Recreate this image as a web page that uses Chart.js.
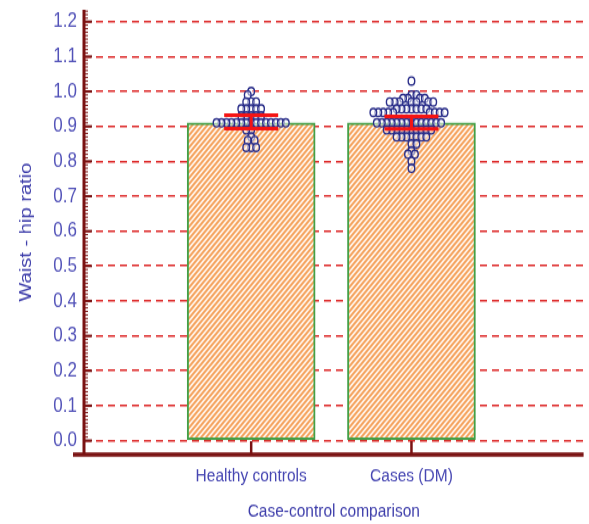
<!DOCTYPE html>
<html lang="en">
<head>
<meta charset="UTF-8">
<title>Waist-hip ratio</title>
<script src="https://cdn.jsdelivr.net/npm/chart.js"></script>
<style>
  body { margin: 0; background: #fff; }
  #page { width: 589px; height: 524px; position: relative; }
  /* the original picture is stretched vertically, so draw flat and stretch */
  #wrap { position: absolute; left: 0; top: 0; width: 589px; height: 430px; transform: scaleY(1.2186); transform-origin: 0 0; }
</style>
</head>
<body>
<div id="page"><div id="wrap"><canvas id="chart" width="589" height="430"></canvas></div></div>
<script>
// data
const groups = ['Healthy controls', 'Cases (DM)'];
const groupPos = [1, 2];
const barMeans = [0.91, 0.91];
const ciLow = [0.894, 0.893];
const ciHigh = [0.932, 0.929];
const yTickLabels = ['0.0', '0.1', '0.2', '0.3', '0.4', '0.5', '0.6', '0.7', '0.8', '0.9', '1.0', '1.1', '1.2'];

const healthy = [
  1.00, 0.99,
  0.97, 0.97, 0.97,
  0.95, 0.95, 0.95, 0.95, 0.95,
  0.93, 0.93, 0.93, 0.93, 0.93,
  0.91, 0.91, 0.91, 0.91, 0.91, 0.91, 0.91, 0.91, 0.91, 0.91, 0.91, 0.91, 0.91, 0.91, 0.91,
  0.89, 0.89,
  0.87,
  0.86, 0.86,
  0.84, 0.84, 0.84
];
const cases = [
  1.03,
  0.99, 0.99,
  0.98, 0.98, 0.98, 0.98,
  0.97, 0.97, 0.97, 0.97, 0.97, 0.97, 0.97,
  0.95, 0.95, 0.95, 0.95, 0.95, 0.95, 0.95,
  0.94, 0.94, 0.94, 0.94, 0.94, 0.94, 0.94, 0.94, 0.94,
  0.91, 0.91, 0.91, 0.91, 0.91, 0.91, 0.91, 0.91, 0.91, 0.91, 0.91, 0.91, 0.91, 0.91,
  0.89, 0.89, 0.89, 0.89, 0.89, 0.89, 0.89, 0.89, 0.89, 0.89,
  0.87, 0.87, 0.87, 0.87, 0.87, 0.87, 0.87,
  0.85, 0.85,
  0.83,
  0.82, 0.82,
  0.80,
  0.78
];

const font = 'Liberation Sans, Arial, sans-serif';

// beeswarm: push each dot sideways until it clears the ones already placed
// (pixels per unit on screen: 162 across, 349 up)
function swarm(vals, center) {
  const pxX = 162, pxY = 349, minDist = 4.8, step = 0.5;
  const placed = [];
  vals.slice().sort((a, b) => b - a).forEach((v, n) => {
    const py = v * pxY;
    const side = n % 2 ? -1 : 1;
    let dx = null;
    for (let k = 0; dx === null && k < 400; k++) {
      for (const c of k === 0 ? [0] : [side * k * step, -side * k * step]) {
        if (placed.every(p => Math.hypot(p.dx - c, p.py - py) >= minDist)) { dx = c; break; }
      }
    }
    placed.push({ dx, py });
  });
  return placed.map(p => ({ x: center + p.dx / pxX, y: p.py / pxY }));
}

const canvas = document.getElementById('chart');
const ctx = canvas.getContext('2d');

function hatch() {
  const c = document.createElement('canvas');
  c.width = 5; c.height = 5;
  const p = c.getContext('2d');
  p.fillStyle = '#fff3e8';
  p.fillRect(0, 0, 5, 5);
  p.strokeStyle = '#f5a058';
  p.lineWidth = 1.8;
  p.beginPath();
  p.moveTo(-1, 6); p.lineTo(6, -1);
  p.moveTo(-1, 1); p.lineTo(1, -1);
  p.moveTo(4, 6); p.lineTo(6, 4);
  p.stroke();
  return ctx.createPattern(c, 'repeat');
}

// axis lines, inward ticks and red error bars
const axesPlugin = {
  id: 'axes',
  afterDatasetsDraw(chart) {
    const { ctx, scales: { x, y }, chartArea: a } = chart;
    ctx.save();
    ctx.strokeStyle = '#f41414';
    ctx.lineWidth = 3;
    groupPos.forEach((g, i) => {
      const cx = x.getPixelForValue(g);
      const yl = y.getPixelForValue(ciLow[i]);
      const yh = y.getPixelForValue(ciHigh[i]);
      ctx.beginPath();
      ctx.moveTo(cx - 27, yh); ctx.lineTo(cx + 27, yh);
      ctx.moveTo(cx - 27, yl); ctx.lineTo(cx + 27, yl);
      ctx.moveTo(cx, yh); ctx.lineTo(cx, yl);
      ctx.stroke();
    });

    ctx.strokeStyle = '#7a1212';
    ctx.lineWidth = 3;
    ctx.beginPath();
    ctx.moveTo(a.left, a.top); ctx.lineTo(a.left, a.bottom);
    ctx.stroke();
    ctx.lineWidth = 3.5;
    ctx.beginPath();
    ctx.moveTo(a.left - 11, a.bottom); ctx.lineTo(a.right, a.bottom);
    ctx.stroke();

    for (let v = 0; v <= 123; v++) {
      const py = y.getPixelForValue(v / 100);
      const major = v % 10 === 0;
      ctx.lineWidth = major ? 2 : 1;
      ctx.beginPath();
      ctx.moveTo(a.left, py); ctx.lineTo(a.left + (major ? 8 : 4), py);
      ctx.stroke();
    }
    ctx.lineWidth = 2.5;
    groupPos.forEach(g => {
      const px = x.getPixelForValue(g);
      ctx.beginPath();
      ctx.moveTo(px, a.bottom); ctx.lineTo(px, a.bottom - 11);
      ctx.stroke();
    });
    ctx.restore();
  }
};

const noEdgePad = s => { s.paddingTop = 0; s.paddingBottom = 0; s.paddingLeft = 0; s.paddingRight = 0; };

new Chart(ctx, {
  type: 'bar',
  data: {
    datasets: [
      {
        type: 'scatter',
        data: swarm(healthy, groupPos[0]).concat(swarm(cases, groupPos[1])),
        pointRadius: 3.3,
        pointBorderWidth: 1.4,
        borderColor: '#2b2f8a',
        backgroundColor: 'rgba(255,255,255,0.5)',
        order: 0
      },
      {
        type: 'bar',
        data: groupPos.map((g, i) => ({ x: g, y: barMeans[i] })),
        backgroundColor: hatch(),
        borderColor: '#43a047',
        borderWidth: 2,
        borderSkipped: false,
        barThickness: 128,
        order: 1
      }
    ]
  },
  options: {
    responsive: false,
    animation: false,
    layout: { padding: { top: 8, right: 0, left: 0, bottom: 0 } },
    plugins: { legend: { display: false }, tooltip: { enabled: false } },
    scales: {
      x: {
        type: 'linear',
        min: -0.043,
        max: 3.074,
        offset: false,
        grid: { display: false, offset: false },
        border: { display: false },
        afterBuildTicks: s => { s.ticks = groupPos.map(v => ({ value: v })); },
        afterFit: s => { s.height = 57; noEdgePad(s); },
        ticks: {
          callback: v => groups[groupPos.indexOf(v)],
          color: '#4646b2',
          font: { family: font, size: 15.5 },
          padding: 0,
          maxRotation: 0,
          autoSkip: false
        },
        title: {
          display: true,
          text: 'Case-control comparison',
          color: '#3d3daa',
          font: { family: font, size: 15.5 },
          padding: { top: 0, bottom: 0.5 }
        }
      },
      y: {
        type: 'linear',
        min: -0.04,
        max: 1.234,
        afterBuildTicks: s => { s.ticks = yTickLabels.map(t => ({ value: parseFloat(t) })); },
        afterFit: s => { s.width = 84; noEdgePad(s); },
        grid: { color: '#dd2a2a', lineWidth: 1.6, drawTicks: false },
        border: { display: false, dash: [7, 5] },
        ticks: {
          callback: (v, i) => yTickLabels[i],
          color: '#5252b8',
          font: { family: font, size: 17 },
          padding: 7
        },
        title: {
          display: true,
          text: 'Waist - hip ratio',
          color: '#3d3daa',
          font: { family: font, size: 16.5 },
          padding: { top: 17, bottom: 0 }
        }
      }
    }
  },
  plugins: [axesPlugin]
});
</script>
</body>
</html>
